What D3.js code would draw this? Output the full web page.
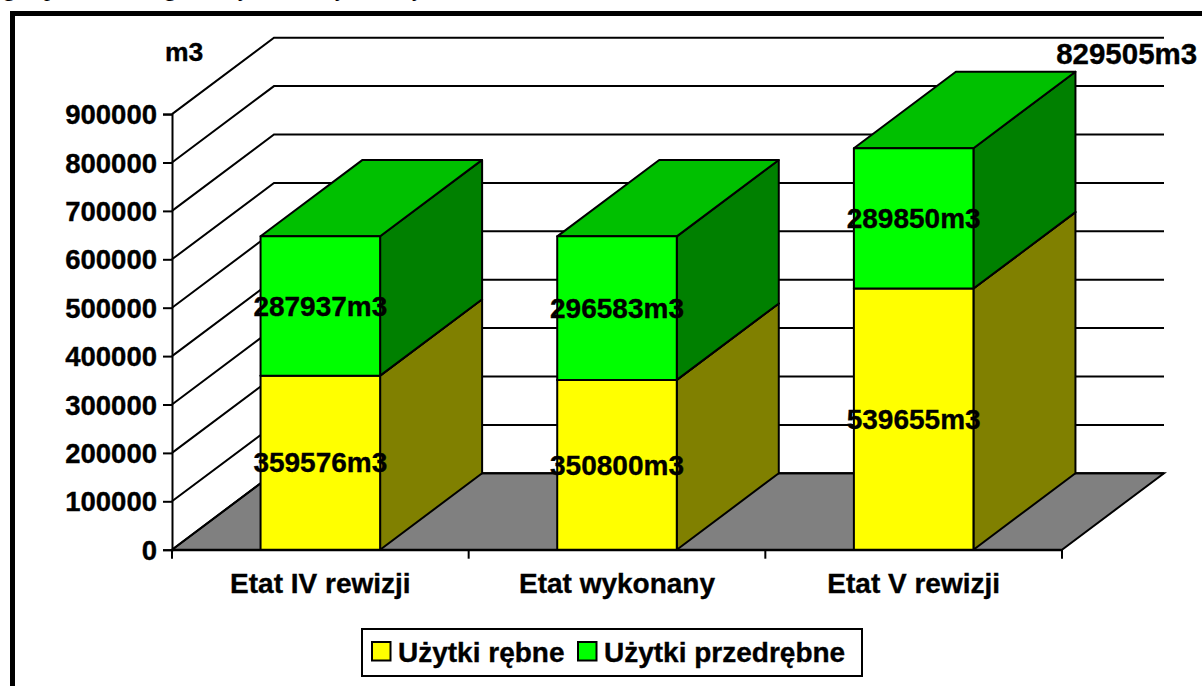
<!DOCTYPE html>
<html>
<head>
<meta charset="utf-8">
<script src="https://cdn.jsdelivr.net/npm/d3@7"></script>
<style>
  html, body { margin: 0; padding: 0; background: #fff; overflow: hidden; }
  svg { display: block; }
  text { font-family: "Liberation Sans", Arial, sans-serif; font-weight: bold; font-size: 28px; fill: #000; stroke: #000; stroke-width: 0.35px; }
  #y-axis text { font-size: 27.5px; }
  text.cut { font-family: "Liberation Serif", serif; font-weight: normal; font-size: 24px; stroke: none; }
</style>
</head>
<body>
<svg id="canvas"></svg>
<script>
// Data
let categories = ["Etat IV rewizji", "Etat wykonany", "Etat V rewizji"];
let rebne = [359576, 350800, 539655];
let przedrebne = [287937, 296583, 289850];
let seriesNames = ["Użytki rębne", "Użytki przedrębne"];
let yTicks = [0, 100000, 200000, 300000, 400000, 500000, 600000, 700000, 800000, 900000];
let unit = "m3";
// descenders of the line of text cut off above the chart
let cutOffGlyphs = ["g", "p", "g", "y", "y", "y"];
let cutOffX = [3, 44, 164, 238, 335, 412];

// Layout
let width = 1202;
let height = 686;
let depthX = 102;
let depthY = 76.4;
let lw = 2;

let canvas = d3.select("#canvas").attr("width", width).attr("height", height);

let xScale = d3.scaleBand().domain(categories).range([172, 1062]);
let barScale = d3.scaleBand().domain(["bar"]).range([0, xScale.bandwidth()]).padding(0.4255);
let yScale = d3.scaleLinear().domain([0, 900000]).range([549.7, 114.1]);

let pts = (list) => list.map((p) => p.join(",")).join(" ");

// line of text above the chart, only the bottoms of the letters show
canvas.selectAll(".cut")
  .data(cutOffGlyphs)
  .enter()
  .append("text")
  .attr("class", "cut")
  .attr("x", (d, i) => cutOffX[i])
  .attr("y", -4)
  .text((d) => d);

// outer frame, runs off the right and bottom of the picture
canvas.append("path")
  .attr("d", `M12.5,${height + 5} V13.5 H${width + 5}`)
  .attr("fill", "none")
  .attr("stroke", "#000")
  .attr("stroke-width", 5);

// floor
let x0 = xScale.range()[0];
let x1 = xScale.range()[1];
let y0 = yScale(0);
canvas.append("polygon")
  .attr("points", pts([[x0, y0], [x0 + depthX, y0 - depthY], [x1 + depthX, y0 - depthY], [x1, y0]]))
  .attr("fill", "#808080")
  .attr("stroke", "#000")
  .attr("stroke-width", lw);

// grid on side and back wall
canvas.selectAll(".grid")
  .data(yTicks)
  .enter()
  .append("polyline")
  .attr("class", "grid")
  .attr("points", (d) => pts([[x0, yScale(d)], [x0 + depthX, yScale(d) - depthY], [x1 + depthX, yScale(d) - depthY]]))
  .attr("fill", "none")
  .attr("stroke", "#000")
  .attr("stroke-width", lw);

// Bars, one box per segment
let drawBox = (cat, from, to, front, top, side) => {
  let left = xScale(cat) + barScale("bar");
  let right = left + barScale.bandwidth();
  let yFrom = yScale(from);
  let yTo = yScale(to);
  let g = canvas.append("g").attr("stroke", "#000").attr("stroke-width", lw).attr("stroke-linejoin", "round");
  g.append("polygon")
    .attr("points", pts([[right, yFrom], [right + depthX, yFrom - depthY], [right + depthX, yTo - depthY], [right, yTo]]))
    .attr("fill", side);
  g.append("polygon")
    .attr("points", pts([[left, yTo], [left + depthX, yTo - depthY], [right + depthX, yTo - depthY], [right, yTo]]))
    .attr("fill", top);
  g.append("polygon")
    .attr("points", pts([[left, yFrom], [left, yTo], [right, yTo], [right, yFrom]]))
    .attr("fill", front);
};

categories.forEach((cat, i) => {
  drawBox(cat, 0, rebne[i], "#ffff00", "#c0c000", "#808000");
  drawBox(cat, rebne[i], rebne[i] + przedrebne[i], "#00ff00", "#00c000", "#008000");
});

// Axes
let yAxis = d3.axisLeft(yScale).tickValues(yTicks).tickSize(9).tickPadding(6).tickFormat(d3.format("d"));
let yG = canvas.append("g").attr("id", "y-axis").attr("transform", "translate(172, 0)").call(yAxis);
yG.selectAll("text").attr("dy", "0.35em");

// ticks sit between the categories, so the axis only gives the labels
let xAxis = d3.axisBottom(xScale).tickSize(0).tickPadding(23);
let xG = canvas.append("g").attr("id", "x-axis").attr("transform", `translate(0, ${y0})`).call(xAxis);
xG.selectAll("text").attr("dy", "0.71em");
xG.selectAll(".between")
  .data(categories.map((c) => xScale(c)).concat([x1]))
  .enter()
  .append("line")
  .attr("class", "between")
  .attr("x1", (d) => d)
  .attr("x2", (d) => d)
  .attr("y1", 0)
  .attr("y2", 9)
  .attr("stroke", "#000");
canvas.selectAll("#x-axis path, #y-axis path, #x-axis line, #y-axis line")
  .attr("stroke", "#000")
  .attr("stroke-width", lw);

// Value labels
let barCenter = (cat) => xScale(cat) + xScale.bandwidth() / 2;
categories.forEach((cat, i) => {
  canvas.append("text")
    .attr("x", barCenter(cat))
    .attr("y", yScale(rebne[i] / 2))
    .attr("dy", "0.35em")
    .attr("text-anchor", "middle")
    .text(rebne[i] + unit);
  canvas.append("text")
    .attr("x", barCenter(cat))
    .attr("y", yScale(rebne[i] + przedrebne[i] / 2))
    .attr("dy", "0.35em")
    .attr("text-anchor", "middle")
    .text(przedrebne[i] + unit);
});

// total over the last bar
let lastTotal = rebne[2] + przedrebne[2];
canvas.append("text")
  .attr("x", barCenter(categories[2]) + 213)
  .attr("y", yScale(lastTotal) - 95)
  .attr("dy", "0.35em")
  .attr("text-anchor", "middle")
  .style("font-size", "29.5px")
  .text(lastTotal + unit);

canvas.append("text").attr("x", 165).attr("y", 61).style("font-size", "26.5px").text(unit);

// Legend
canvas.append("rect")
  .attr("x", 362).attr("y", 629)
  .attr("width", 500).attr("height", 47)
  .attr("fill", "#fff").attr("stroke", "#000").attr("stroke-width", lw);

let legendX = [372, 578];
let legendColors = ["#ffff00", "#00ff00"];
seriesNames.forEach((name, i) => {
  canvas.append("rect")
    .attr("x", legendX[i]).attr("y", 642)
    .attr("width", 18.5).attr("height", 18.5)
    .attr("fill", legendColors[i]).attr("stroke", "#000").attr("stroke-width", lw);
  canvas.append("text")
    .attr("x", legendX[i] + 26).attr("y", 661.5)
    .text(name);
});
</script>
</body>
</html>
